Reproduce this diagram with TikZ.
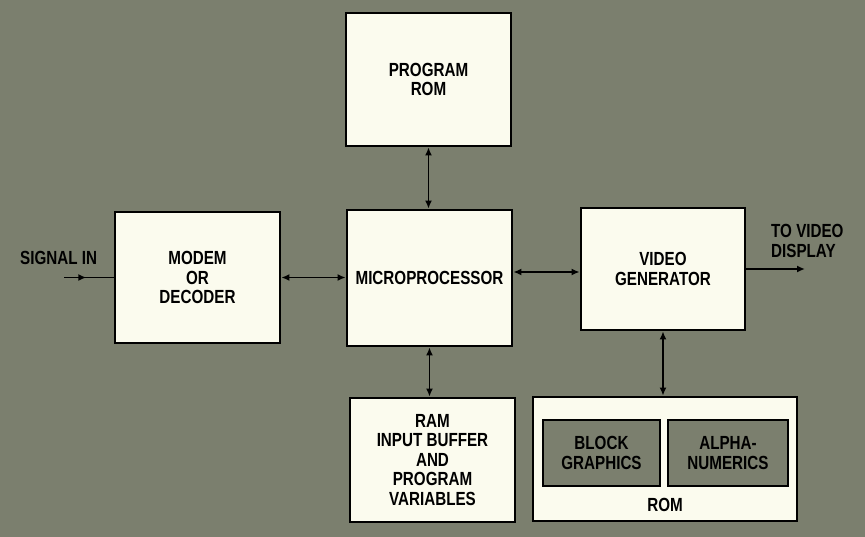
\documentclass[tikz,border=0pt]{standalone}
\usepackage{fontspec}
\setmainfont{Liberation Sans}[FakeStretch=0.8]
\usetikzlibrary{arrows.meta,decorations.markings}
\definecolor{bg}{HTML}{7B7F6E}
\definecolor{paper}{HTML}{FBFBEE}
\tikzset{
  blk/.style={draw=black,line width=2.8pt,fill=paper,align=center,inner sep=0pt,
    font=\fontsize{19}{19.5}\selectfont\bfseries},
  inner/.style={draw=black,line width=2.6pt,fill=bg,align=center,inner sep=0pt,
    font=\fontsize{19}{19.5}\selectfont\bfseries},
  lbl/.style={align=left,inner sep=0pt,font=\fontsize{19}{19.5}\selectfont\bfseries},
  conn/.style={line width=1.8pt,{Latex[length=8pt,width=7pt]}-{Latex[length=8pt,width=7pt]}},
  oneway/.style={line width=1.8pt,-{Latex[length=8pt,width=7pt]}},
  midarrow/.style={line width=1.8pt,decoration={markings,mark=at position 0.45 with {\arrow{Latex[length=8pt,width=7pt]}}},postaction={decorate}}
}
\begin{document}
\begin{tikzpicture}[x=1pt,y=-1pt]
\fill[bg] (0,0) rectangle (865,537);
\useasboundingbox (0,0) rectangle (865,537);
\node[blk,minimum width=165pt,minimum height=133pt] (prom) at (428.5,79.5) {\raisebox{-10pt}{\parbox{150pt}{\centering PROGRAM\\ROM}}};
\node[blk,minimum width=165pt,minimum height=131pt] (modem) at (197.5,277.5) {MODEM\\OR\\DECODER};
\node[blk,minimum width=165pt,minimum height=136pt] (micro) at (429.5,278) {MICROPROCESSOR};
\node[blk,minimum width=164pt,minimum height=122pt] (video) at (663,269) {\raisebox{-5pt}{\parbox{150pt}{\centering VIDEO\\GENERATOR}}};
\node[blk,minimum width=165pt,minimum height=124pt] (ram) at (432.5,460) {RAM\\INPUT BUFFER\\AND\\PROGRAM\\VARIABLES};
\node[blk,minimum width=264pt,minimum height=124pt] (rom) at (665,459) {};
\node[inner,minimum width=117pt,minimum height=66pt] (block) at (601.5,453) {BLOCK\\GRAPHICS};
\node[inner,minimum width=120pt,minimum height=66pt] (alpha) at (728,453) {ALPHA-\\NUMERICS};
\node[lbl] (romlbl) at (665,505) {ROM};
\node[lbl,anchor=west] (sig) at (20,258) {SIGNAL IN};
\node[lbl,anchor=west] (disp) at (771,241) {TO VIDEO\\DISPLAY};
\coordinate (in) at (64,277.5);
\coordinate (out) at (805,269);
\draw[midarrow] (in) -- (modem.west);
\draw[conn] (modem.east) -- (modem.east -| micro.west);
\draw[conn] (micro.east |- 0,272) -- (video.west |- 0,272);
\draw[oneway] (video.east) -- (out);
\draw[conn] (prom.south) -- (prom.south |- micro.north);
\draw[conn] (micro.south) -- (micro.south |- ram.north);
\draw[conn] (video.south) -- (video.south |- rom.north);
\end{tikzpicture}
\end{document}
